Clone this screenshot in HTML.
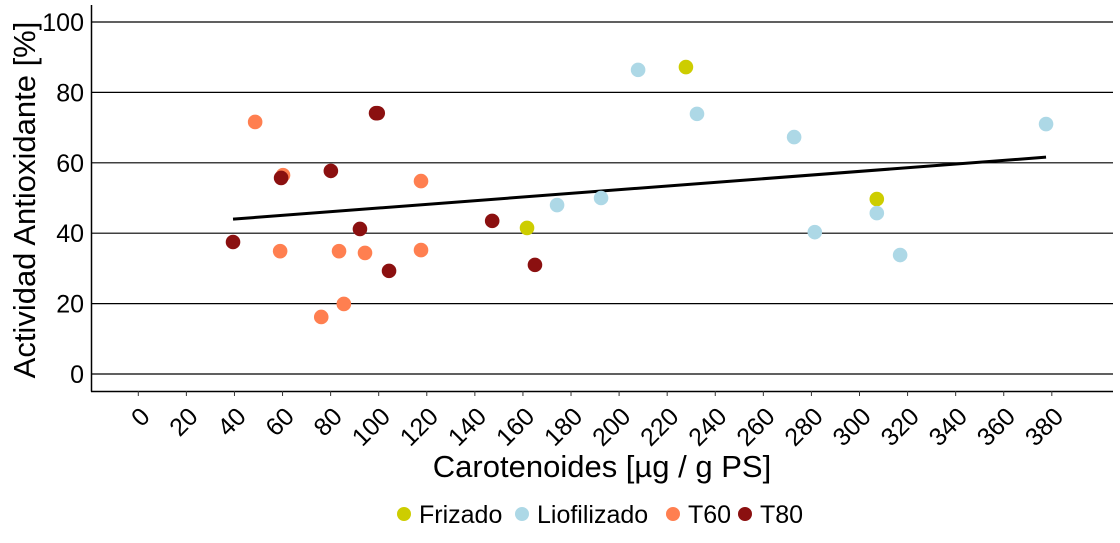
<!DOCTYPE html>
<html><head><meta charset="utf-8"><style>
body{margin:0;background:#fff;width:1120px;height:538px;overflow:hidden}
svg text{font-family:"Liberation Sans",Arial,sans-serif;fill:#000}
</style></head><body>
<svg id="chart" width="1120" height="538" xmlns="http://www.w3.org/2000/svg"></svg>
<script>
const xTicks=[0,20,40,60,80,100,120,140,160,180,200,220,240,260,280,300,320,340,360,380];
const yTicks=[0,20,40,60,80,100];
const seriesNames=["Frizado","Liofilizado","T60","T80"];
const seriesColors=["#CDCD00","#ADD8E6","#FF7F50","#8B1010"];
const frizadoX=[227.8,161.7,307.2];
const frizadoY=[87.2,41.5,49.7];
const liofX=[207.9,232.4,174.2,192.5,272.8,281.4,307.2,316.9,377.6];
const liofY=[86.4,73.9,48.0,50.0,67.3,40.3,45.7,33.8,71.0];
const t60X=[48.6,60.2,59.0,76.1,83.5,85.5,94.3,117.6,117.6];
const t60Y=[71.6,56.5,34.9,16.2,34.9,19.9,34.4,54.8,35.2];
const t80X=[39.4,59.4,80.1,92.2,98.9,99.6,104.3,147.2,165.0];
const t80Y=[37.5,55.7,57.7,41.2,74.1,74.1,29.3,43.5,31.0];
const fitX=[39.4,377.6];
const fitY=[44.0,61.6];

const svg=document.getElementById('chart');
const NS='http://www.w3.org/2000/svg';
const X=v=>138.3+2.404*v;
const Y=v=>374-3.52*v;
function mk(t,a,p){const e=document.createElementNS(NS,t);for(const k in a)e.setAttribute(k,a[k]);(p||svg).appendChild(e);return e;}

yTicks.forEach(v=>{
  const g=mk('line',{x1:91,x2:1113,y1:Y(v),y2:Y(v),stroke:'#000','stroke-width':1.2});
  
  
  const t=mk('text',{x:84,y:Y(v)+9,'text-anchor':'end','font-size':25});
  t.textContent=v;
  
  
});
const ax=mk('line',{x1:91.5,x2:91.5,y1:5,y2:391.5,stroke:'#000','stroke-width':1.5});


const bx=mk('line',{x1:91,x2:1113,y1:391.5,y2:391.5,stroke:'#000','stroke-width':1.5});


xTicks.forEach(v=>{
  const tk=mk('line',{x1:X(v),x2:X(v),y1:391,y2:396,stroke:'#333','stroke-width':1});
  
  
  const ax_=X(v)+13, ay=418;
  const t=mk('text',{x:ax_,y:ay,'text-anchor':'end','font-size':25,transform:`rotate(-45 ${ax_} ${ay})`});
  t.textContent=v;
  
  
});
const fl=mk('line',{x1:X(fitX[0]),y1:Y(fitY[0]),x2:X(fitX[1]),y2:Y(fitY[1]),stroke:'#000','stroke-width':3});


const allX=[frizadoX,liofX,t60X,t80X],allY=[frizadoY,liofY,t60Y,t80Y];
allX.forEach((xs,s)=>xs.forEach((xv,i)=>{
  const c=mk('circle',{cx:X(xv),cy:Y(allY[s][i]),r:7.3,fill:seriesColors[s]});
  
  
}));
const yt=mk('text',{x:35,y:200,'text-anchor':'middle','font-size':31,transform:'rotate(-90 35 200)'});
yt.textContent='Actividad Antioxidante [%]';


const xt=mk('text',{x:602,y:477,'text-anchor':'middle','font-size':31});
xt.textContent='Carotenoides [µg / g PS]';


const legX=[404,522,673,745];
seriesNames.forEach((n,s)=>{
  const c=mk('circle',{cx:legX[s],cy:514,r:7,fill:seriesColors[s]});
  
  
  const t=mk('text',{x:legX[s]+15,y:523,'font-size':25});
  t.textContent=n;
  
  
});
</script>
</body></html>
